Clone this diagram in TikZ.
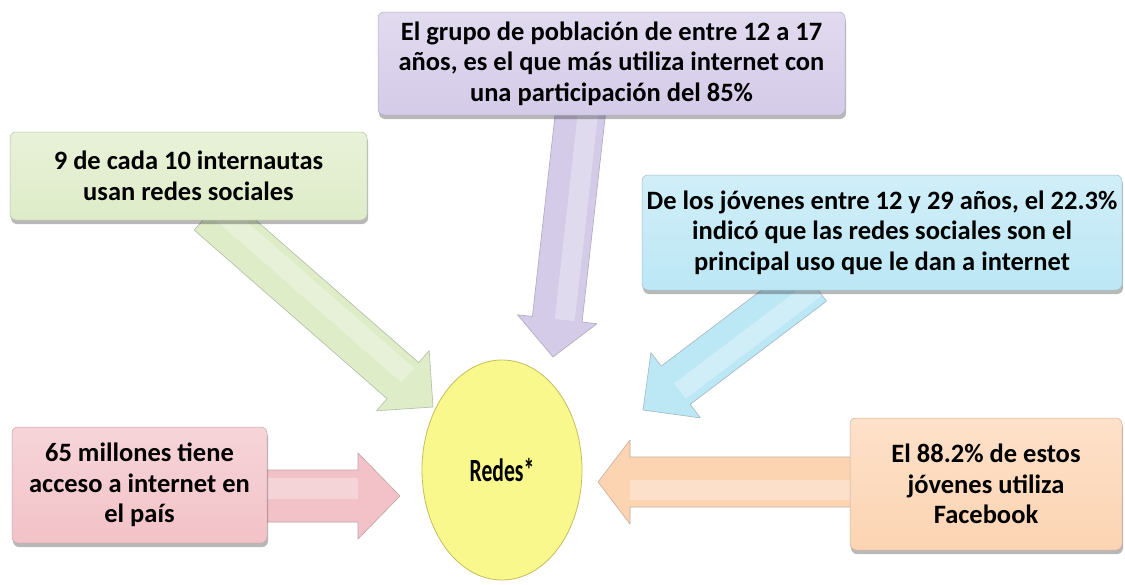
\documentclass[tikz,border=0pt]{standalone}
\usepackage{fontspec}
\setmainfont{Carlito}
\usetikzlibrary{calc,shapes.geometric,shadows}
\definecolor{purpc}{RGB}{212,203,232}
\definecolor{greenc}{RGB}{222,236,200}
\definecolor{cyanc}{RGB}{188,231,245}
\definecolor{pinkc}{RGB}{242,194,200}
\definecolor{orangec}{RGB}{252,212,178}
\definecolor{yellowc}{RGB}{249,248,140}
\definecolor{yelledge}{RGB}{196,190,92}
\newcommand{\mkblockarrow}[6]{%
  \coordinate (ba-b) at ($(#2)!#5!(#1)$);
  \filldraw[draw=#6!55!gray, fill=#6, line width=0.6pt, line join=round]
    ($(#1)!#3!90:(#2)$) -- ($(ba-b)!#3!90:(#2)$) -- ($(ba-b)!#4!90:(#2)$) -- (#2)
    -- ($(ba-b)!#4!-90:(#2)$) -- ($(ba-b)!#3!-90:(#2)$) -- ($(#1)!#3!-90:(#2)$) -- cycle;
  \draw[white, opacity=0.3, line width=0.8*#3]
    ($(#1)!0.3*#3!90:(#2)$) -- ($(ba-b)!0.3*#3!90:(#2)$);
}
\tikzset{
  infobox/.style={rectangle, rounded corners=6pt, draw=#1!60!gray, line width=0.5pt,
    top color=#1!70!white, bottom color=#1, inner sep=0pt, align=center,
    font=\fontsize{26.5}{30.5}\selectfont\bfseries,
    drop shadow={shadow xshift=1pt, shadow yshift=-4pt, fill=black, opacity=0.28}},
  centerball/.style={ellipse, draw=yelledge, line width=0.8pt, fill=yellowc,
    minimum width=160pt, minimum height=220pt, inner sep=0pt,
    font=\fontsize{24}{26}\selectfont\bfseries}
}
\begin{document}
\begin{tikzpicture}[x=1pt, y=-1pt]
\useasboundingbox (0,0) rectangle (1125,584);
\fill[white] (0,0) rectangle (1125,584);

% starts and tips of the block arrows
\coordinate (gS) at (210,212);
\coordinate (gT) at (433,407);
\coordinate (pS) at (581,108);
\coordinate (pT) at (553,357);
\coordinate (cS) at (812,282);
\coordinate (cT) at (643,410);
\coordinate (rS) at (255,496);
\coordinate (rT) at (400,496);
\coordinate (oS) at (860,482);
\coordinate (oT) at (598,482);

\mkblockarrow{gS}{gT}{24pt}{40pt}{40pt}{greenc}
\mkblockarrow{pS}{pT}{25pt}{40pt}{38pt}{purpc}
\mkblockarrow{cS}{cT}{24pt}{41pt}{41pt}{cyanc}
\mkblockarrow{rS}{rT}{26pt}{43pt}{42pt}{pinkc}
\mkblockarrow{oS}{oT}{25pt}{42pt}{32pt}{orangec}

\node[centerball] (redes) at (502,470) {\scalebox{0.9}[1.35]{Redes*}};

\node[infobox=purpc, minimum width=467pt, minimum height=103pt] (grupo) at (611.5,63.5)
  {El grupo de población de entre 12 a 17\\años, es el que más utiliza internet con\\una participación del 85\%};
\node[infobox=greenc, minimum width=357pt, minimum height=88pt] (nueve) at (188.5,176)
  {9 de cada 10 internautas\\usan redes sociales};
\node[infobox=cyanc, minimum width=480pt, minimum height=115pt] (jovenes) at (882,232.5)
  {De los jóvenes entre 12 y 29 años, el 22.3\%\\indicó que las redes sociales son el\\principal uso que le dan a internet};
\node[infobox=pinkc, minimum width=255pt, minimum height=116pt] (millones) at (139.5,485)
  {65 millones tiene\\acceso a internet en\\el país};
\node[infobox=orangec, minimum width=272pt, minimum height=132pt] (facebook) at (986,484)
  {El 88.2\% de estos\\jóvenes utiliza\\Facebook};
\end{tikzpicture}
\end{document}
